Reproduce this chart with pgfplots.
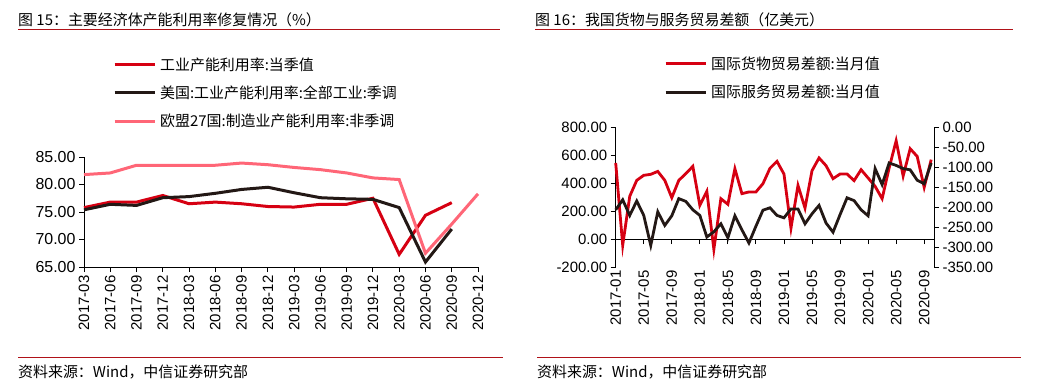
\documentclass[border=0pt]{standalone}
\usepackage{pgfplots}
\pgfplotsset{compat=1.18}
\usepackage{fontspec}
\setmainfont{Liberation Sans}
\newfontfamily\cjk{Noto Sans CJK SC}
\definecolor{cred}{RGB}{214,0,18}
\definecolor{cblack}{RGB}{35,24,21}
\definecolor{cpink}{RGB}{255,102,119}
\definecolor{tred}{RGB}{176,18,24}
\pgfplotsset{
  mystyle/.style={scale only axis, tick align=outside, major tick length=5bp,
    axis line style={line width=0.9bp, black}, tick style={line width=0.9bp, black},
    tick label style={font=\fontsize{15}{15}\selectfont},
    /pgf/number format/assume math mode=true, clip=false},
  mylegend/.style={legend style={draw=none, fill=none, inner sep=0pt, row sep=14bp, column sep=4bp,
    nodes={inner sep=0pt}, font=\cjk\fontsize{15}{15}\selectfont}, legend cell align=left,
    legend image code/.code={\draw[##1, line width=3bp] (0bp,0bp) -- (40bp,0bp);}},
}
\begin{document}
\begin{tikzpicture}
\path[use as bounding box] (0,0) rectangle (1046bp,-387bp);
% titles and rules
\node[anchor=west, inner sep=0pt, font=\cjk\fontsize{15}{15}\selectfont] at (18bp,-20bp) {图 15：主要经济体产能利用率修复情况（\%）};
\node[anchor=west, inner sep=0pt, font=\cjk\fontsize{15}{15}\selectfont] at (535bp,-20bp) {图 16：我国货物与服务贸易差额（亿美元）};
\draw[tred, line width=1bp] (18bp,-29bp) -- (500bp,-29bp);
\draw[tred, line width=1bp] (535bp,-29bp) -- (1013bp,-29bp);
\draw[tred, line width=1bp] (18bp,-357bp) -- (503bp,-357bp);
\draw[tred, line width=1bp] (537bp,-357bp) -- (1021bp,-357bp);
\node[anchor=west, inner sep=0pt, font=\cjk\fontsize{15}{15}\selectfont] at (18bp,-372bp) {资料来源：Wind，中信证券研究部};
\node[anchor=west, inner sep=0pt, font=\cjk\fontsize{15}{15}\selectfont] at (537bp,-372bp) {资料来源：Wind，中信证券研究部};

% ---------------- left chart
\begin{axis}[mystyle, mylegend, at={(84bp,-267bp)}, anchor=south west, width=394bp, height=110bp,
  xmin=0, xmax=15, ymin=65, ymax=85, axis lines*=left,
  xtick={0,...,15},
  xticklabels={2017-03,2017-06,2017-09,2017-12,2018-03,2018-06,2018-09,2018-12,2019-03,2019-06,2019-09,2019-12,2020-03,2020-06,2020-09,2020-12},
  x tick label style={rotate=90, anchor=east},
  ytick={65,70,75,80,85},
  y tick label style={font=\fontsize{16}{16}\selectfont},
  yticklabel style={/pgf/number format/fixed, /pgf/number format/fixed zerofill, /pgf/number format/precision=2},
  legend style={at={(axis description cs:0.0736,1.582)}, anchor=west}]
\addplot[cred, line width=3bp] coordinates {(0,75.8)(1,76.8)(2,76.8)(3,78.0)(4,76.5)(5,76.8)(6,76.5)(7,76.0)(8,75.9)(9,76.4)(10,76.4)(11,77.5)(12,67.3)(13,74.4)(14,76.7)};
\addlegendentry{工业产能利用率:当季值}
\addplot[cblack, line width=3bp] coordinates {(0,75.4)(1,76.4)(2,76.2)(3,77.6)(4,77.8)(5,78.4)(6,79.1)(7,79.5)(8,78.5)(9,77.6)(10,77.4)(11,77.3)(12,75.8)(13,65.9)(14,71.9)};
\addlegendentry{美国:工业产能利用率:全部工业:季调}
\addplot[cpink, line width=3bp] coordinates {(0,81.8)(1,82.1)(2,83.5)(3,83.5)(4,83.5)(5,83.5)(6,83.9)(7,83.6)(8,83.1)(9,82.7)(10,82.1)(11,81.2)(12,80.9)(13,67.5)(14,72.8)(15,78.3)};
\addlegendentry{欧盟27国:制造业产能利用率:非季调}
\end{axis}

% ---------------- right chart: labels
\begin{axis}[mystyle, at={(615.7bp,-267bp)}, anchor=south west, width=318.3bp, height=140bp,
  xmin=0, xmax=45.4, ymin=-200, ymax=800, hide y axis, axis x line*=bottom,
  x axis line style={draw=none}, major tick length=0pt,
  xtick={0,4,...,44},
  xticklabels={2017-01,2017-05,2017-09,2018-01,2018-05,2018-09,2019-01,2019-05,2019-09,2020-01,2020-05,2020-09},
  x tick label style={rotate=90, anchor=east}]
\addplot[draw=none] coordinates {(0,0)};
\end{axis}
% zero line with ticks (bottom edge of this thin axis sits at value 0 of the left scale)
\begin{axis}[mystyle, at={(615.7bp,-239bp)}, anchor=south west, width=318.3bp, height=10bp,
  xmin=0, xmax=45.4, ymin=0, ymax=1, hide y axis, axis x line*=bottom,
  xtick={4,8,...,44}, xticklabels={}]
\addplot[draw=none] coordinates {(0,0)};
\end{axis}
% left y: goods
\begin{axis}[mystyle, at={(615.7bp,-267bp)}, anchor=south west, width=318.3bp, height=140bp,
  xmin=0, xmax=45.4, ymin=-200, ymax=800, axis y line*=left, axis x line=none,
  ytick={-200,0,...,800},
  yticklabel style={/pgf/number format/fixed, /pgf/number format/fixed zerofill, /pgf/number format/precision=2}]
\addplot[cred, line width=2.8bp] coordinates {
(0,543)(1,-45)(2,305)(3,419)(4,455)(5,462)(6,483)(7,419)(8,295)(9,419)
(10,467)(11,519)(12,240)(13,340)(14,-74)(15,288)(16,248)(17,502)(18,324)(19,336)
(20,336)(21,395)(22,505)(23,555)(24,464)(25,78)(26,383)(27,221)(28,488)(29,579)
(30,524)(31,431)(32,464)(33,464)(34,417)(35,495)(36,436)(37,376)(38,288)(39,507)
(40,702)(41,450)(42,645)(43,590)(44,369)(45,567)};
\end{axis}
% right y: services
\begin{axis}[mystyle, mylegend, at={(615.7bp,-267bp)}, anchor=south west, width=318.3bp, height=140bp,
  xmin=0, xmax=45.4, ymin=-350, ymax=0, axis y line*=right, axis x line=none,
  ytick={-350,-300,...,0},
  yticklabel style={/pgf/number format/fixed, /pgf/number format/fixed zerofill, /pgf/number format/precision=2},
  legend style={at={(axis description cs:0.1517,1.35)}, anchor=west}]
\addlegendimage{cred, line width=3bp}
\addlegendentry{国际货物贸易差额:当月值}
\addplot[cblack, line width=2.8bp] coordinates {
(0,-207)(1,-182)(2,-221)(3,-185)(4,-221)(5,-296)(6,-212)(7,-246)(8,-222)(9,-179)
(10,-186)(11,-207)(12,-221)(13,-275)(14,-262)(15,-242)(16,-277)(17,-222)(18,-257)(19,-290)
(20,-248)(21,-208)(22,-202)(23,-221)(24,-227)(25,-205)(26,-205)(27,-242)(28,-217)(29,-196)
(30,-240)(31,-263)(32,-219)(33,-177)(34,-184)(35,-207)(36,-222)(37,-104)(38,-144)(39,-90)
(40,-96)(41,-104)(42,-107)(43,-133)(44,-142)(45,-90)};
\addlegendentry{国际服务贸易差额:当月值}
\end{axis}
\end{tikzpicture}
\end{document}
